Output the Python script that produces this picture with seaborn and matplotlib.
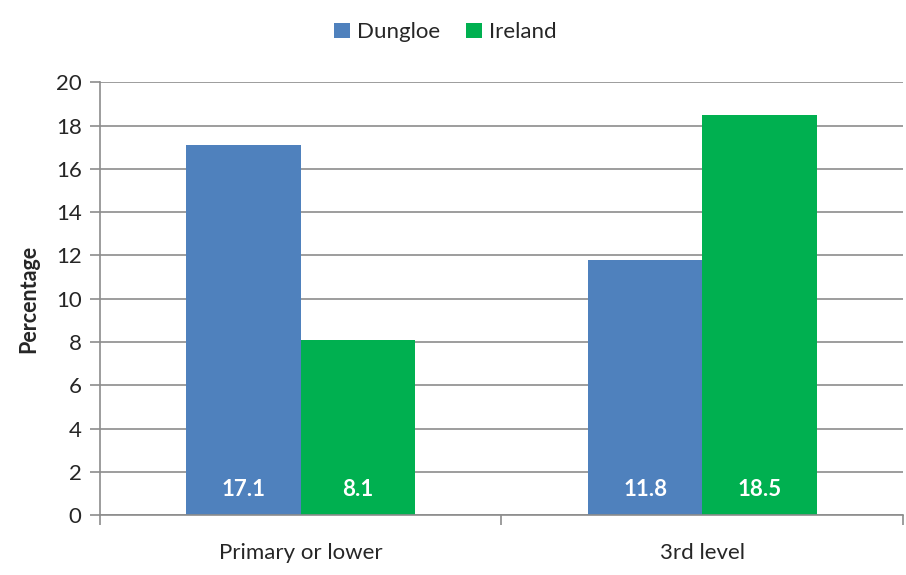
import pandas as pd
import numpy as np
import seaborn as sns
import matplotlib
matplotlib.use('Agg')
import matplotlib.pyplot as plt

categories = ['Primary or lower', '3rd level']
series = ['Dungloe', 'Ireland']
dungloe = [17.1, 11.8]
ireland = [8.1, 18.5]
colors = ['#4F81BD', '#00B050']

df = pd.DataFrame({
    'category': categories * 2,
    'area': [series[0]] * 2 + [series[1]] * 2,
    'value': dungloe + ireland,
})

sns.set_style('white')
plt.rcParams['font.family'] = ['Lato', 'DejaVu Sans']

fig = plt.figure(figsize=(9.06, 5.75), dpi=100)
ax = fig.add_axes([0.110, 0.104, 0.887, 0.753])

sns.barplot(data=df, x='category', y='value', hue='area', palette=colors,
            width=0.57, saturation=1, linewidth=0, ax=ax, legend=True)

ax.set_ylim(0, 20)
ax.set_xlim(-0.5, 1.5)
ax.set_yticks(np.arange(0, 21, 2))
ax.grid(axis='y', color='#8c8c8c', linewidth=1.2)
ax.set_axisbelow(True)
for s in ['top', 'right']:
    ax.spines[s].set_visible(False)
for s in ['left', 'bottom']:
    ax.spines[s].set_color('#8c8c8c')
    ax.spines[s].set_linewidth(1.2)

ax.tick_params(axis='y', length=7, color='#8c8c8c', width=1.2, labelsize=16, pad=6, direction='out', left=True)
ax.tick_params(axis='x', which='major', length=0, labelsize=16, pad=20)
ax.set_xticks([-0.5, 0.5, 1.5], minor=True)
ax.tick_params(axis='x', which='minor', length=7, color='#8c8c8c', width=1.2, bottom=True, direction='out')

ax.set_xlabel('')
ax.set_ylabel('Percentage', fontsize=15.5, fontweight='bold', labelpad=12)

# value labels at bottom of bars
for cont in ax.containers:
    for bar in cont:
        x = bar.get_x() + bar.get_width() / 2
        ax.text(x, 1.2, f'{bar.get_height():.1f}', ha='center', va='center',
                color='white', fontsize=16, fontweight='bold')

ax.legend(loc='upper center', bbox_to_anchor=(0.43, 1.185), ncol=2, frameon=False,
          fontsize=16, handlelength=0.7, handleheight=0.7, handletextpad=0.3,
          columnspacing=1.2)

fig.savefig('out.png', dpi=100)
